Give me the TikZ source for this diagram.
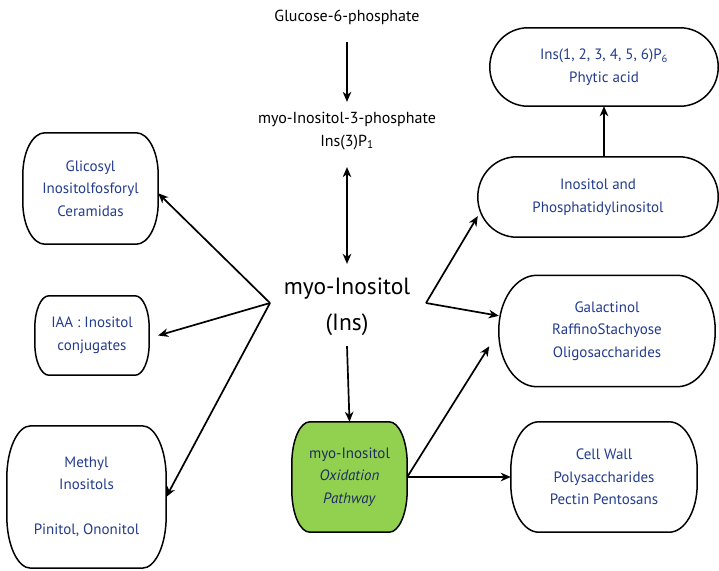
\documentclass[tikz,border=0pt]{standalone}
\usepackage{fontspec}
\setmainfont{PT Sans}
\usetikzlibrary{arrows.meta,calc,backgrounds}
\definecolor{boxblue}{RGB}{35,60,140}
\definecolor{navy}{RGB}{30,45,95}
\definecolor{oxgreen}{RGB}{146,208,80}
% outline with elliptical corners: [options]{node}{rx}{ry}
\newcommand\ovbox[4][]{%
  \draw[outl,#1]
    ($(#2.north west)+(#3,0)$) -- ($(#2.north east)+(-#3,0)$)
    .. controls ($(#2.north east)+(-0.448*#3,0)$) and ($(#2.north east)+(0,0.448*#4)$) .. ($(#2.north east)+(0,#4)$)
    -- ($(#2.south east)+(0,-#4)$)
    .. controls ($(#2.south east)+(0,-0.448*#4)$) and ($(#2.south east)+(-0.448*#3,0)$) .. ($(#2.south east)+(-#3,0)$)
    -- ($(#2.south west)+(#3,0)$)
    .. controls ($(#2.south west)+(0.448*#3,0)$) and ($(#2.south west)+(0,-0.448*#4)$) .. ($(#2.south west)+(0,-#4)$)
    -- ($(#2.north west)+(0,#4)$)
    .. controls ($(#2.north west)+(0,0.448*#4)$) and ($(#2.north west)+(0.448*#3,0)$) .. ($(#2.north west)+(#3,0)$)
    -- cycle;}
\begin{document}
\begin{tikzpicture}[x=1pt,y=-1pt,
  box/.style={align=center,inner sep=0pt,
    text=boxblue,font=\fontsize{15}{22.5}\selectfont},
  outl/.style={draw=black,line width=1.5pt,line join=round},
  plain/.style={align=center,inner sep=0pt,font=\fontsize{16}{23}\selectfont},
  arr/.style={line width=1.7pt,-{Stealth[length=10pt,width=8.5pt,inset=3pt]}},
  darr/.style={line width=1.7pt,{Stealth[length=10pt,width=8.5pt,inset=3pt]}-{Stealth[length=10pt,width=8.5pt,inset=3pt]}}]
\useasboundingbox (0,0) rectangle (719,570);
% centre column
\node[plain] (g6p) at (347,17) {Glucose-6-phosphate};
\node[plain] (m3p) at (347,131) {myo-Inositol-3-phosphate\\Ins(3)P\textsubscript{1}};
\node[align=center,inner sep=0pt,font=\fontsize{23.5}{36}\selectfont] (ins) at (347,307) {myo-Inositol\\(Ins)};
% boxes
\node[box,minimum width=228pt,minimum height=78pt] (phy) at (604,67) {Ins(1, 2, 3, 4, 5, 6)P\textsubscript{6}\\Phytic acid};
\node[box,minimum width=240pt,minimum height=80pt] (pi) at (598,197) {Inositol and\\Phosphatidylinositol};
\node[box,minimum width=216pt,minimum height=111pt] (gal) at (607,331) {Galactinol\\RaffinoStachyose\\Oligosaccharides};
\node[box,minimum width=186pt,minimum height=110pt] (cw) at (604,477) {Cell Wall\\Polysaccharides\\Pectin Pentosans};
\node[box,text=navy,minimum width=115pt,minimum height=110pt] (ox) at (349.5,477) {myo-Inositol\\\textit{Oxidation}\\\textit{Pathway}};
\node[box,minimum width=135pt,minimum height=111pt] (gly) at (90.5,188.5) {Glicosyl\\Inositolfosforyl\\Ceramidas};
\node[box,minimum width=114pt,minimum height=79pt] (iaa) at (92,335.5) {IAA : Inositol\\conjugates};
\node[box,minimum width=159pt,minimum height=142pt] (me) at (86.5,497) {Methyl\\Inositols\\\\Pinitol, Ononitol};
% outlines
\ovbox{phy}{38}{39}
\ovbox{pi}{39}{40}
\ovbox{gal}{38}{55}
\ovbox{cw}{28}{48}
\begin{scope}[on background layer]
\ovbox[fill=oxgreen]{ox}{18}{42}
\end{scope}
\ovbox{gly}{22}{42}
\ovbox{iaa}{14}{32}
\ovbox{me}{24}{52}
% hubs
\coordinate (hubL) at (270,303);
\coordinate (hubR) at (426,303);
% connectors
\draw[arr] ($(g6p.south)+(0,18)$) -- ($(m3p.north)+(0,-10)$);
\draw[darr] ($(m3p.south)+(0,17)$) -- ($(ins.north)+(0,-14)$);
\draw[arr] ($(ins.south)+(0,10)$) -- (ox.north);
\draw[arr] (hubL) -- (gly.-4);
\draw[arr] (hubL) -- ($(iaa.east)+(9,0)$);
\draw[arr] (hubL) -- (me.east);
\draw[arr] (hubR) -- (pi.189.5);
\draw[arr] (hubR) -- (gal.172.6);
\draw[arr,shorten >=18pt] (ox.east) -- (gal.west);
\draw[arr] (ox.east) -- (cw.west);
\draw[arr] (pi.north -| phy.south) -- (phy.south);
\end{tikzpicture}
\end{document}
